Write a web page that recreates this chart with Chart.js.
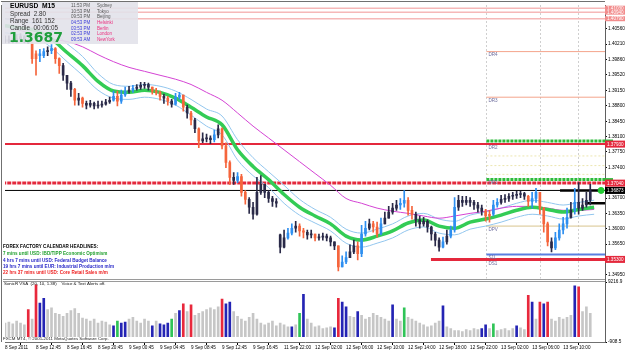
<!DOCTYPE html>
<html><head><meta charset="utf-8">
<script src="https://cdn.jsdelivr.net/npm/chart.js@4.4.0/dist/chart.umd.min.js"></script>
<style>html,body{margin:0;padding:0;background:#fff;}</style>
</head><body>
<canvas id="c" width="625" height="352"></canvas>
<script>
// ---------- data ----------
const xLabels = ['8 Sep 2011','8 Sep 12:45','8 Sep 16:45','8 Sep 20:45','9 Sep 00:45','9 Sep 04:45','9 Sep 08:45','9 Sep 12:45','9 Sep 16:45','11 Sep 22:00','12 Sep 02:00','12 Sep 06:00','12 Sep 10:00','12 Sep 14:00','12 Sep 18:00','12 Sep 22:00','13 Sep 02:00','13 Sep 06:00','13 Sep 10:00'];
const xTickIdx = [0,8,16,24,32,40,48,56,64,72,80,88,96,104,112,120,128,136,144];
const yTickVals = [1.4056,1.4021,1.3986,1.3952,1.3915,1.3880,1.3845,1.3810,1.3775,1.3740,1.3670,1.3635,1.3600,1.3565,1.3495];
const yTickLabels = ['1.40560','1.40210','1.39860','1.39520','1.39150','1.38800','1.38450','1.38100','1.37750','1.37400','1.36700','1.36350','1.36000','1.35650','1.34950'];
const volTickVals = [9216.9, -908.5];
const volTickLabels = ['9216.9','-908.5'];

const firstOpen = 1.4031;
const gapOpens = {71: 1.3586};
const closes = [
1.4027,1.4031,1.4026,1.4033,1.4038,1.4027,1.4024,1.3988,1.3999,1.3995,
1.4004,1.4006,1.4011,1.3988,1.3972,1.3950,1.3932,1.3918,1.3893,1.3898,
1.3886,1.3882,1.3886,1.3880,1.3882,1.3884,1.3889,1.3893,1.3902,1.3891,
1.3905,1.3914,1.3916,1.3920,1.3923,1.3927,1.3929,1.3923,1.3914,1.3911,
1.3902,1.3898,1.3891,1.3884,1.3900,1.3905,1.3877,1.3864,1.3848,1.3828,
1.3800,1.3805,1.3807,1.3803,1.3814,1.3828,1.3789,1.3751,1.3717,1.3710,
1.3719,1.3683,1.3667,1.3649,1.3633,1.3683,1.3701,1.3683,1.3669,1.3662,
1.3658,1.3558,1.3579,1.3590,1.3601,1.3606,1.3595,1.3592,1.3586,1.3588,
1.3579,1.3581,1.3583,1.3579,1.3570,1.3561,1.3513,1.3524,1.3534,1.3547,
1.3561,1.3543,1.3588,1.3601,1.3611,1.3604,1.3588,1.3611,1.3624,1.3638,
1.3647,1.3654,1.3658,1.3665,1.3642,1.3633,1.3620,1.3611,1.3617,1.3604,
1.3588,1.3574,1.3558,1.3570,1.3583,1.3597,1.3649,1.3665,1.3660,1.3665,
1.3660,1.3654,1.3647,1.3640,1.3629,1.3633,1.3654,1.3660,1.3667,1.3669,
1.3674,1.3676,1.3678,1.3680,1.3674,1.3662,1.3669,1.3683,1.3647,1.3611,
1.3570,1.3556,1.3579,1.3597,1.3611,1.3626,1.3642,1.3660,1.3647,1.3654,
1.3665,1.3687];
const highs = [
1.4040,1.4040,1.4033,1.4042,1.4045,1.4040,1.4031,1.4013,1.4006,1.4009,
1.4011,1.4015,1.4020,1.4013,1.3990,1.3977,1.3950,1.3936,1.3920,1.3909,
1.3900,1.3891,1.3893,1.3889,1.3891,1.3891,1.3895,1.3900,1.3914,1.3914,
1.3916,1.3923,1.3925,1.3927,1.3929,1.3934,1.3934,1.3932,1.3923,1.3920,
1.3914,1.3907,1.3902,1.3895,1.3909,1.3911,1.3905,1.3882,1.3868,1.3852,
1.3830,1.3819,1.3816,1.3812,1.3825,1.3837,1.3830,1.3796,1.3755,1.3728,
1.3728,1.3724,1.3687,1.3671,1.3660,1.3717,1.3721,1.3701,1.3687,1.3674,
1.3669,1.3588,1.3597,1.3601,1.3611,1.3617,1.3611,1.3601,1.3597,1.3597,
1.3588,1.3588,1.3590,1.3588,1.3583,1.3570,1.3558,1.3538,1.3547,1.3563,
1.3574,1.3570,1.3608,1.3617,1.3622,1.3617,1.3615,1.3624,1.3638,1.3651,
1.3658,1.3665,1.3669,1.3687,1.3671,1.3651,1.3638,1.3629,1.3626,1.3620,
1.3606,1.3592,1.3579,1.3581,1.3597,1.3606,1.3671,1.3676,1.3674,1.3674,
1.3671,1.3665,1.3660,1.3654,1.3644,1.3642,1.3665,1.3669,1.3676,1.3678,
1.3680,1.3683,1.3685,1.3685,1.3683,1.3676,1.3683,1.3692,1.3683,1.3649,
1.3615,1.3579,1.3592,1.3611,1.3626,1.3647,1.3660,1.3692,1.3705,1.3669,
1.3683,1.3701];
const lows = [
1.4024,1.4024,1.4024,1.4024,1.4027,1.4024,1.4022,1.3977,1.3950,1.3981,
1.3990,1.3995,1.3999,1.3977,1.3954,1.3938,1.3918,1.3902,1.3882,1.3882,
1.3877,1.3873,1.3877,1.3873,1.3875,1.3877,1.3882,1.3886,1.3891,1.3880,
1.3886,1.3902,1.3909,1.3911,1.3916,1.3918,1.3920,1.3916,1.3907,1.3905,
1.3893,1.3886,1.3882,1.3877,1.3882,1.3895,1.3868,1.3852,1.3837,1.3819,
1.3785,1.3796,1.3798,1.3794,1.3798,1.3807,1.3782,1.3739,1.3701,1.3701,
1.3705,1.3674,1.3656,1.3635,1.3622,1.3631,1.3678,1.3671,1.3660,1.3651,
1.3649,1.3545,1.3556,1.3576,1.3586,1.3592,1.3583,1.3579,1.3576,1.3579,
1.3572,1.3574,1.3574,1.3572,1.3561,1.3552,1.3504,1.3513,1.3520,1.3534,
1.3543,1.3529,1.3536,1.3583,1.3597,1.3592,1.3581,1.3586,1.3611,1.3624,
1.3633,1.3642,1.3644,1.3649,1.3631,1.3622,1.3606,1.3601,1.3606,1.3592,
1.3574,1.3561,1.3549,1.3556,1.3565,1.3579,1.3592,1.3642,1.3651,1.3654,
1.3651,1.3644,1.3638,1.3631,1.3617,1.3615,1.3629,1.3649,1.3656,1.3660,
1.3662,1.3667,1.3669,1.3671,1.3667,1.3651,1.3647,1.3660,1.3633,1.3592,
1.3561,1.3547,1.3552,1.3574,1.3588,1.3601,1.3624,1.3633,1.3633,1.3642,
1.3649,1.3654];
// 0 = neutral, 1 = up signal, 2 = down signal
const candleKind = [
0,0,0,0,0,0,0,2,2,1, 1,0,1,2,2,0,0,0,2,0, 2,0,0,0,0,0,0,0,1,2,
1,1,0,1,0,0,0,0,2,2, 2,0,2,0,1,1,2,0,2,0, 2,0,0,0,1,0,2,2,2,0,
1,2,2,0,0,0,0,0,0,0, 0,0,0,1,1,0,2,2,0,0, 2,0,0,0,0,0,2,1,1,0,
0,2,1,1,0,2,2,1,0,0, 0,0,1,1,2,2,0,0,0,0, 0,0,0,1,0,1,1,0,0,0,
0,0,0,0,2,2,1,1,0,0, 0,0,0,0,0,2,1,1,2,2, 2,0,1,1,1,1,0,1,0,0,
0,0];

const volumes = [
2306,2466,2145,2627,2306,1984,4555,2948,8733,5680,
6484,4555,4877,3913,3752,3430,3913,4395,4716,3913,
3109,2948,2627,2948,2306,2627,2466,1984,1823,2627,
2306,2466,2948,3270,2627,2306,2948,2627,1823,2627,
2145,1984,2306,2948,3913,4395,5519,4234,5359,3591,
3913,4234,4555,4877,4555,5037,6323,5519,5841,4234,
3430,2948,2627,3270,3913,2948,2306,1984,2306,2627,
1823,2306,1984,1663,1663,1984,3913,7127,2948,2306,
1663,1823,1341,1502,1663,1502,6484,5841,5037,3430,
3270,4234,3591,2948,3270,3913,3591,3270,2948,2627,
5359,2948,2627,4877,3270,2948,2627,2306,1984,1663,
1823,2306,2627,5198,1663,1341,1020,1020,859,1181,
1020,1341,1181,1341,1984,1341,2145,1020,1181,1341,
1020,1341,1823,1502,1181,6966,5841,2948,5841,5519,
5841,2948,2627,3270,2948,3270,3591,8573,8412,4234,
5037,3913];
// 0 = normal, 1 = red, 2 = blue, 3 = green
const volumeKind = [
0,0,0,0,0,0,1,0,1,2, 2,0,0,0,0,0,0,0,0,0, 0,0,0,0,0,0,0,0,2,3,
2,2,0,0,0,0,0,0,2,0, 2,2,2,3,0,2,1,0,1,0, 0,0,0,0,0,0,1,2,2,0,
0,0,0,0,0,0,0,0,0,0, 0,0,0,0,2,0,3,2,0,0, 0,0,0,0,0,2,1,2,2,0,
0,2,0,0,0,0,0,0,0,0, 2,0,0,3,0,0,0,0,0,0, 0,0,0,2,0,0,0,0,0,0,
0,0,0,2,2,0,3,0,0,0, 0,0,2,0,0,1,2,0,1,2, 1,0,0,0,0,0,0,2,1,0,
0,0];

const maIdx = [0,4,8,12,16,20,24,28,32,36,40,44,48,52,56,60,64,68,72,76,80,84,88,92,96,100,104,108,112,116,120,124,128,132,136,140,144,148,152];
const greenMA = [1.4063,1.4058,1.4052,1.4033,1.4002,1.3972,1.3936,1.3914,1.3911,1.3916,
1.3911,1.3898,1.3877,1.3855,1.3837,1.3780,1.3742,1.3712,1.3678,1.3649,
1.3629,1.3611,1.3583,1.3574,1.3583,1.3595,1.3613,1.3620,1.3606,1.3601,
1.3615,1.3622,1.3631,1.3642,1.3649,1.3644,1.3638,1.3644,1.3649];
const upperBand = [1.4079,1.4074,1.4067,1.4052,1.4022,1.3993,1.3954,1.3929,1.3925,1.3929,
1.3925,1.3914,1.3895,1.3873,1.3857,1.3803,1.3762,1.3730,1.3699,1.3667,
1.3644,1.3626,1.3599,1.3590,1.3599,1.3611,1.3629,1.3635,1.3622,1.3617,
1.3631,1.3638,1.3647,1.3658,1.3665,1.3660,1.3654,1.3660,1.3665];
const lowerBand = [1.4047,1.4042,1.4036,1.4013,1.3981,1.3950,1.3916,1.3898,1.3895,1.3900,
1.3895,1.3882,1.3859,1.3834,1.3814,1.3757,1.3721,1.3694,1.3658,1.3631,
1.3613,1.3595,1.3567,1.3558,1.3567,1.3579,1.3597,1.3604,1.3590,1.3586,
1.3599,1.3606,1.3615,1.3626,1.3633,1.3629,1.3622,1.3629,1.3633];
const magentaMA = [1.4063,1.4052,1.4042,1.4033,1.4027,1.4015,1.3997,1.3981,1.3968,1.3959,
1.3950,1.3941,1.3929,1.3911,1.3893,1.3864,1.3834,1.3807,1.3780,1.3753,
1.3726,1.3699,1.3669,1.3658,1.3647,1.3640,1.3635,1.3629,1.3624,1.3629,
1.3635,1.3640,1.3647,1.3651,1.3651,1.3647,1.3642,1.3642,1.3644];

const pinkLevels = [1.4103, 1.4094, 1.4079];
const redLevel = 1.3793;
const redDotLevel = 1.3704;
const lastPrice = 1.36873;
const markLevel = 1.3658;
const pivotNames = ['DR4','DR3','DR2','DR1','DPV','S1L'];
const pivotLevels = [1.4004, 1.3900, 1.3800, 1.3712, 1.3606, 1.3541];
const supportName = 'DS1';
const supportLevel = 1.3530;
const faintLevels = [1.3766, 1.3744, 1.3724];
const pivotStart = 124.2;
const supportStart = 109.9;
const sessionMarks = [124.2, 138.1, 147.9];
const XMAX = 154.8;

const symbolText = 'EURUSD  M15';
const infoLines = ['Spread  2.80', 'Range  161 152', 'Candle  00:06:05'];
const bigPrice = '1.3687';
const sessionTimes = ['11:53 PM','10:53 PM','09:53 PM','04:53 PM','03:53 PM','02:53 PM','09:53 AM'];
const sessionCities = ['Sydney','Tokyo','Beijing','Helsinki','Berlin','London','NewYork'];
const headlines = ['FOREX FACTORY CALENDAR HEADLINES:',
  '7 mins until USD: IBD/TIPP Economic Optimism',
  '4 hrs 7 mins until USD: Federal Budget Balance',
  '19 hrs 7 mins until EUR: Industrial Production m/m',
  '22 hrs 37 mins until USD: Core Retail Sales m/m'];
const indicatorLabel = 'SonicR VSA  (20, 10, 1.38)    Voice & Text Alerts off.';
const copyright = 'FXCM MT4, \u00A9 2001-2011 MetaQuotes Software Corp.';

// ---------- build ----------
const FONT = "'Liberation Sans', Arial, sans-serif";
const opens = closes.map((c,i) => i === 0 ? firstOpen : (gapOpens[i] !== undefined ? gapOpens[i] : closes[i-1]));
const kindColor = ['#2a2a48','#2e8ff0','#f5653c'];
const volColor = ['#c6c6c6','#e8283c','#2424b4','#2fc457'];

function hline(p, x0, x1, color, width, dash, order) {
  return {type:'line', data:[{x:x0,y:p},{x:x1,y:p}], borderColor:color, borderWidth:width,
    borderDash:dash||[], pointRadius:0, yAxisID:'y', order:order, tension:0};
}
function curve(vals, color, width, order) {
  return {type:'line', data:maIdx.map((x,k)=>({x:x, y:vals[k]})), borderColor:color, borderWidth:width,
    pointRadius:0, yAxisID:'y', order:order, tension:0.4, cubicInterpolationMode:'monotone'};
}

const datasets = [];
pinkLevels.forEach(p => datasets.push(hline(p, -2, XMAX+2, '#f6b8b8', 1.5, [], 60)));
datasets.push(hline(redLevel, -2, XMAX+2, '#e4283c', 2, [], 58));
datasets.push(hline(redDotLevel, -2, XMAX+2, '#e4283c', 3, [4,1], 58));
datasets.push(hline(lastPrice, -2, XMAX+2, '#000000', 1, [], 57));
faintLevels.forEach(p => datasets.push(hline(p, pivotStart, XMAX+2, '#ece6b0', 1, [2,2], 61)));
const pivotStyle = [['#f4a48c',1,[]],['#f4a48c',1,[]],['#2dbb3a',3,[3,1]],['#2dbb3a',3,[3,1]],['#d8c48e',1,[]],['#5a7ee0',2,[]]];
pivotLevels.forEach((p,k) => datasets.push(hline(p, pivotStart, XMAX+2, pivotStyle[k][0], pivotStyle[k][1], pivotStyle[k][2], 59)));
datasets.push(hline(supportLevel, supportStart, XMAX+2, '#e4283c', 3, [], 58));
datasets.push(hline(lastPrice, 143.2, 153.5, '#000000', 2.5, [], 56));
datasets.push(hline(markLevel, 149.6, XMAX+2, '#000000', 2.5, [], 56));

datasets.push(curve(upperBand, '#92c6ee', 1, 40));
datasets.push(curve(lowerBand, '#92c6ee', 1, 40));
datasets.push(curve(magentaMA, '#d444d4', 1, 38));
datasets.push(curve(greenMA, '#33cc55', 3.5, 35));

datasets.push({type:'bar', yAxisID:'y', order:20, grouped:false, barThickness:1,
  data: closes.map((c,i)=>({x:i, y:[Math.min(lows[i],opens[i],c), Math.max(highs[i],opens[i],c)]})),
  backgroundColor: candleKind.map(k=>kindColor[k]), borderWidth:0});
datasets.push({type:'bar', yAxisID:'y', order:19, grouped:false, barThickness:2, minBarLength:1,
  data: closes.map((c,i)=>({x:i, y:[opens[i], c]})),
  backgroundColor: candleKind.map(k=>kindColor[k]), borderWidth:0});

datasets.push({type:'line', yAxisID:'y', order:5, showLine:false, data:[{x:153.8, y:lastPrice}],
  pointRadius:3, pointBackgroundColor:'#22cc33', pointBorderColor:'#22cc33'});

datasets.push({type:'bar', yAxisID:'yv', order:10, grouped:false, barThickness:2,
  data: volumes.map((v,i)=>({x:i, y:v})),
  backgroundColor: volumeKind.map(k=>volColor[k]), borderWidth:0});

function txt(ctx, s, x, y, font, color, align) {
  ctx.font = font; ctx.fillStyle = color; ctx.textAlign = align || 'left'; ctx.textBaseline = 'middle';
  ctx.fillText(s, x, y);
}

const overlay = {
  id:'overlay',
  beforeDatasetsDraw(chart) {
    const {ctx, scales:{x, y}} = chart;
    ctx.save();
    ctx.strokeStyle = '#cfcfcf'; ctx.lineWidth = 1; ctx.setLineDash([2,2]);
    sessionMarks.forEach(v => {
      const px = Math.round(x.getPixelForValue(v)) + 0.5;
      ctx.beginPath(); ctx.moveTo(px, y.top); ctx.lineTo(px, y.bottom); ctx.stroke();
    });
    ctx.restore();
  },
  afterDatasetsDraw(chart) {
    const {ctx, scales:{x, y, yv}, chartArea} = chart;
    ctx.save();
    const lx = x.getPixelForValue(pivotStart) + 2;
    const labOff = [3.5, 3.5, 6.5, 3.5, 3.5, 3.5];
    pivotNames.forEach((n,k) => txt(ctx, n, lx, y.getPixelForValue(pivotLevels[k]) + labOff[k], '4.6px ' + FONT, '#6e6e9e'));
    txt(ctx, supportName, lx, y.getPixelForValue(supportLevel) + 4.5, '4.6px ' + FONT, '#6e6e9e');
    const hColors = ['#000000','#22a030','#2828c8','#2828c8','#ee2222'];
    const hY = [247, 254, 261, 267, 273];
    headlines.forEach((h,k) => txt(ctx, h, 3, hY[k], 'bold 4.6px ' + FONT, hColors[k]));
    // panel separator
    ctx.strokeStyle = '#9a9a9a'; ctx.lineWidth = 1; ctx.setLineDash([]);
    ctx.beginPath(); ctx.moveTo(chartArea.left - 2, Math.round(y.bottom) + 0.5); ctx.lineTo(chartArea.right, Math.round(y.bottom) + 0.5); ctx.stroke();
    ctx.beginPath(); ctx.moveTo(chartArea.left - 2, Math.round(y.bottom) + 2.5); ctx.lineTo(chartArea.right, Math.round(y.bottom) + 2.5); ctx.stroke();
    // frame
    ctx.strokeStyle = '#707070';
    ctx.beginPath(); ctx.moveTo(1.5, chartArea.top); ctx.lineTo(1.5, chartArea.bottom); ctx.stroke();
    ctx.beginPath(); ctx.moveTo(1, 1.5); ctx.lineTo(chartArea.right, 1.5); ctx.stroke();
    txt(ctx, indicatorLabel, 4, yv.top + 5, '4.4px ' + FONT, '#111');
    txt(ctx, copyright, 3, yv.bottom - 3, '4.4px ' + FONT, '#222');
    ctx.restore();
  },
  afterDraw(chart) {
    const {ctx, scales:{y}, chartArea} = chart;
    ctx.save();
    const R = chartArea.right;
    function tag(p, bg, fg, h) {
      const py = y.getPixelForValue(p);
      ctx.fillStyle = bg; ctx.fillRect(R, py - h/2, 625 - R, h);
      txt(ctx, p.toFixed(5), R + 2, py + 0.3, '4.6px ' + FONT, fg);
    }
    pinkLevels.forEach(p => tag(p, '#f28c8c', '#ffffff', 5));
    [pivotLevels[2], pivotLevels[3]].forEach(p => { const py = y.getPixelForValue(p); ctx.fillStyle = '#2dbb3a'; ctx.fillRect(R, py - 1.5, 8, 3); });
    tag(redLevel, '#e4283c', '#ffffff', 7);
    tag(redDotLevel, '#e4283c', '#ffffff', 7);
    tag(lastPrice, '#000000', '#ffffff', 7);
    tag(supportLevel, '#e4283c', '#ffffff', 7);
    // info box
    ctx.fillStyle = 'rgba(226,226,234,0.9)';
    ctx.fillRect(2, 2, 136, 42);
    txt(ctx, symbolText, 10, 6.5, 'bold 6.7px ' + FONT, '#000');
    const iy = [14, 21, 28];
    infoLines.forEach((s,k) => txt(ctx, s, 10, iy[k], '6.3px ' + FONT, '#333'));
    txt(ctx, bigPrice, 9, 38.5, "bold 14px 'DejaVu Sans', sans-serif", '#1f9e3c');
    const ry = [6, 11.5, 17, 23, 28.5, 34, 40];
    sessionTimes.forEach((s,k) => {
      txt(ctx, s, 71, ry[k], '4.5px ' + FONT, k < 3 ? '#555' : '#3a3ad8');
      txt(ctx, sessionCities[k], 97, ry[k], '4.5px ' + FONT, k < 3 ? '#555' : '#ea2f7e');
    });
    ctx.restore();
  }
};

new Chart(document.getElementById('c'), {
  type:'bar',
  data:{datasets},
  options:{
    responsive:false, animation:false, devicePixelRatio:1, events:[],
    layout:{padding:{left:2, top:1, right:0, bottom:0}},
    plugins:{legend:{display:false}, tooltip:{enabled:false}},
    scales:{
      x:{type:'linear', min:0, max:XMAX, offset:false, position:'bottom',
        afterBuildTicks: ax => { ax.ticks = xTickIdx.map(v=>({value:v})); },
        afterFit: ax => { ax.height = 10; },
        ticks:{autoSkip:false, maxRotation:0, minRotation:0, align:'start', padding:0,
          font:{family:FONT, size:4.6}, color:'#000', callback:(v,i)=>xLabels[i]},
        grid:{drawOnChartArea:false, drawTicks:true, tickLength:3, color:'#000'},
        border:{display:true, color:'#707070'}},
      y:{type:'linear', position:'right', stack:'main', stackWeight:276,
        min:1.34863, max:1.41103,
        afterBuildTicks: ax => { ax.ticks = yTickVals.map(v=>({value:v})); },
        afterFit: ax => { ax.width = 20; },
        ticks:{autoSkip:false, padding:1, font:{family:FONT, size:4.7}, color:'#000', callback:(v,i)=>yTickLabels[i]},
        grid:{drawOnChartArea:false, tickLength:2, color:'#000'},
        border:{display:true, color:'#606060'}},
      yv:{type:'linear', position:'right', stack:'main', stackWeight:64,
        min:-908.5, max:9800,
        afterBuildTicks: ax => { ax.ticks = volTickVals.map(v=>({value:v})); },
        afterFit: ax => { ax.width = 20; },
        ticks:{autoSkip:false, padding:1, font:{family:FONT, size:4.7}, color:'#000', callback:(v,i)=>volTickLabels[i]},
        grid:{drawOnChartArea:false, tickLength:2, color:'#000'},
        border:{display:true, color:'#606060'}}
    }
  },
  plugins:[overlay]
});
</script>
</body></html>
